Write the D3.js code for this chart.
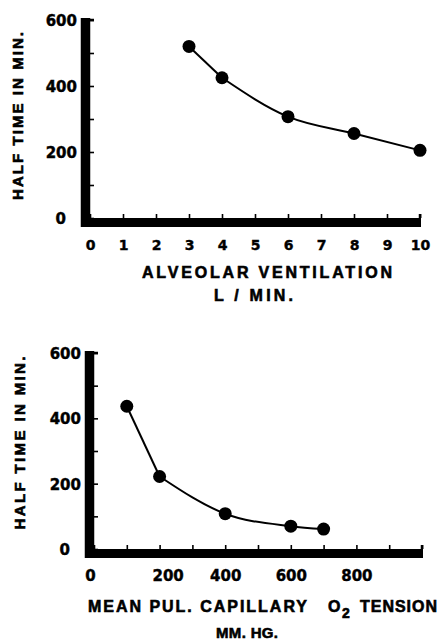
<!DOCTYPE html>
<html>
<head>
<meta charset="utf-8">
<script src="https://cdn.jsdelivr.net/npm/d3@7"></script>
<style>
  body { margin: 0; background: #fff; }
  svg text { font-family: "DejaVu Sans", sans-serif; font-weight: bold; fill: #000; stroke: #000; stroke-width: 0.4px; }
  svg text.title { font-family: "Liberation Sans", Arial, sans-serif; stroke-width: 0.6px; }
</style>
</head>
<body>
<svg id="chart" width="440" height="641"></svg>
<script>
// top panel: half time vs alveolar ventilation
var ventX = [3, 4, 6, 8, 10];
var ventY = [520, 425, 307, 256, 205];
var ventTicks = d3.range(0, 11);

// bottom panel: half time vs mean pul. capillary O2 tension
var tensionX = [100, 200, 400, 600, 700];
var tensionY = [437, 222, 108, 70, 61];
var tensionTicks = d3.range(0, 1001, 100);
var tensionLabels = [0, 200, 400, 600, 800];

var halfTicks = d3.range(0, 601, 100);
var halfLabels = [0, 200, 400, 600];

var svg = d3.select("#chart");

function panel(cfg) {
    var x = d3.scaleLinear().domain(cfg.xDomain).range(cfg.xRange);
    var y = d3.scaleLinear().domain([0, 600]).range(cfg.yRange);
    var g = svg.append("g");

    var x0 = cfg.xRange[0], yb = cfg.yRange[0];

    // y ticks + labels
    var ya = g.append("g")
        .attr("transform", "translate(" + x0 + ",0)")
        .call(d3.axisLeft(y).tickValues(halfTicks).tickSize(-4).tickPadding(13)
            .tickFormat(function (d) { return halfLabels.indexOf(d) >= 0 ? d : ""; }));
    ya.select(".domain").remove();
    ya.selectAll(".tick line").attr("stroke", "#000").attr("stroke-width", 1.6);
    ya.selectAll(".tick text")
        .attr("font-size", 15)
        .attr("dy", "0.36em")
        .attr("dx", function (d) { return d === 0 ? -11 : 0; });

    // x ticks + labels
    var xa = g.append("g")
        .attr("transform", "translate(0," + yb + ")")
        .call(d3.axisBottom(x).tickValues(cfg.xTicks).tickSize(-4).tickPadding(cfg.xPad)
            .tickFormat(function (d) { return cfg.xLabels.indexOf(d) >= 0 ? d : ""; }));
    xa.select(".domain").remove();
    xa.selectAll(".tick line").attr("stroke", "#000").attr("stroke-width", 1.6);
    xa.selectAll(".tick text")
        .attr("font-size", cfg.xFont)
        .attr("dx", function (d) { return cfg.xNudge[d] || 0; });

    // heavy axis lines
    g.append("path")
        .attr("d", "M" + (x0 - 4.5) + "," + (y(600) - 2) + "V" + (yb + 9))
        .attr("stroke", "#000").attr("stroke-width", 9.5).attr("fill", "none");
    g.append("path")
        .attr("d", "M" + (x0 - 9) + "," + (yb + 4.5) + "H" + (cfg.xRange[1] + 1))
        .attr("stroke", "#000").attr("stroke-width", 9).attr("fill", "none");
    g.append("path")
        .attr("d", "M" + (x0 - 4) + "," + y(600) + "H" + (x0 + 4))
        .attr("stroke", "#000").attr("stroke-width", 2.5);
    g.append("path")
        .attr("d", "M" + cfg.xRange[1] + "," + (yb - 4) + "V" + yb)
        .attr("stroke", "#000").attr("stroke-width", 2.5);

    // curve: first leg straight, rest smoothed
    var pts = cfg.xs.map(function (d, i) { return [d, cfg.ys[i]]; });
    var line = d3.line()
        .x(function (d) { return x(d[0]); })
        .y(function (d) { return y(d[1]); });
    g.append("path")
        .datum(pts.slice(0, 2))
        .attr("fill", "none").attr("stroke", "#000").attr("stroke-width", 2)
        .attr("d", line.curve(d3.curveLinear));
    g.append("path")
        .datum(pts.slice(1))
        .attr("fill", "none").attr("stroke", "#000").attr("stroke-width", 2)
        .attr("d", line.curve(d3.curveMonotoneX));
    g.selectAll("circle")
        .data(pts)
        .enter().append("circle")
        .attr("cx", function (d) { return x(d[0]); })
        .attr("cy", function (d) { return y(d[1]); })
        .attr("r", 6.5)
        .attr("fill", "#000");

    // y title
    g.append("text")
        .attr("class", "title")
        .attr("transform", "translate(" + cfg.yTitle[0] + "," + cfg.yTitle[1] + ") rotate(-90)")
        .attr("text-anchor", "middle")
        .attr("font-size", 15)
        .attr("textLength", cfg.yTitle[2])
        .attr("lengthAdjust", "spacing")
        .text("HALF TIME IN MIN.");
}

function label(txt, x, y, len, size) {
    svg.append("text")
        .attr("class", "title")
        .attr("x", x).attr("y", y)
        .attr("font-size", size || 16)
        .attr("textLength", len)
        .attr("lengthAdjust", "spacing")
        .text(txt);
}

panel({
    xDomain: [0, 10], xRange: [90, 420], yRange: [218, 20],
    xs: ventX, ys: ventY, xTicks: ventTicks, xLabels: ventTicks,
    xPad: 22, xFont: 14, xNudge: {},
    yTitle: [23, 116, 168]
});

panel({
    xDomain: [0, 1000], xRange: [94, 422], yRange: [549, 353],
    xs: tensionX, ys: tensionY, xTicks: tensionTicks, xLabels: tensionLabels,
    xPad: 21, xFont: 15, xNudge: { 0: -4, 200: 8 },
    yTitle: [25, 443, 173]
});

label("ALVEOLAR VENTILATION", 142, 278, 250);
label("L / MIN.", 214, 301, 79);

label("MEAN PUL. CAPILLARY", 88, 612, 219);
label("O", 328, 612, 13);
label("2", 342, 618, 9, 14);
label("TENSION", 360, 612, 77);
label("MM. HG.", 216, 638, 62, 15);
</script>
</body>
</html>
